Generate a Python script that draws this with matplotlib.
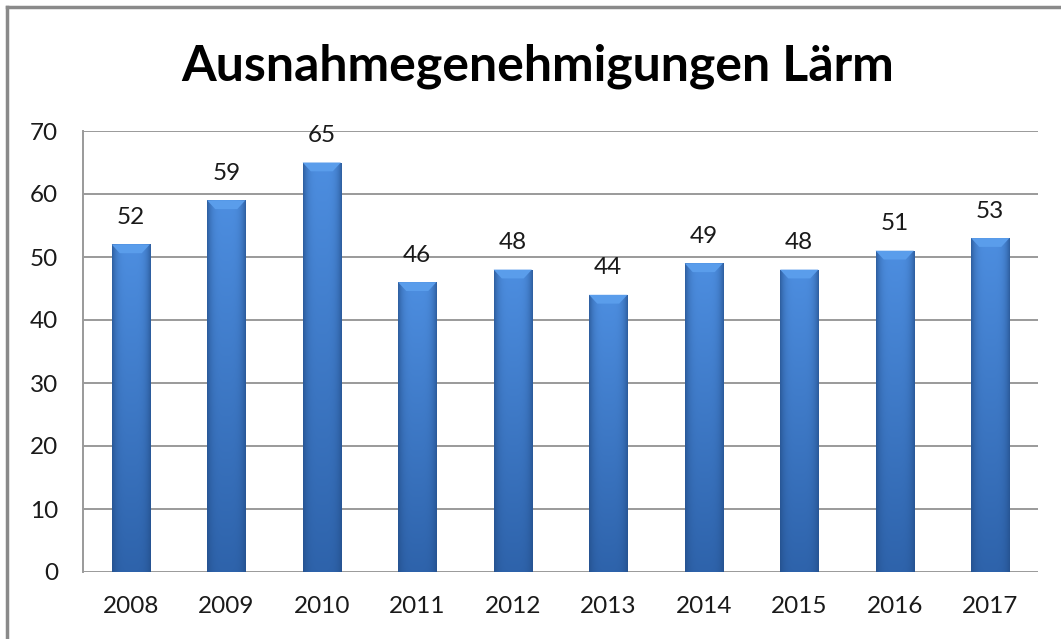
import matplotlib
matplotlib.use("Agg")
import matplotlib.pyplot as plt
import numpy as np
from matplotlib.lines import Line2D
from matplotlib.patches import Polygon

years = ["2008", "2009", "2010", "2011", "2012", "2013", "2014", "2015", "2016", "2017"]
counts = [52, 59, 65, 46, 48, 44, 49, 48, 51, 53]
title = "Ausnahmegenehmigungen Lärm"

plt.rcParams["font.family"] = ["Lato", "DejaVu Sans"]

W, H = 1061, 639
fig = plt.figure(figsize=(W / 100, H / 100), dpi=100)
ax = fig.add_axes([83 / W, 1 - 572 / H, (1038 - 83) / W, (572 - 131) / H])

x = np.arange(len(years))
bar_w = 0.4
bars = ax.bar(x, counts, width=bar_w, color="#3a78c4", edgecolor="none", zorder=3)

# bar shading: darker at the sides, lighter towards the top
top_c = np.array([0x4d, 0x8e, 0xe0]) / 255
bot_c = np.array([0x2e, 0x63, 0xab]) / 255
edge_c = np.array([0x22, 0x4c, 0x86]) / 255
nx, ny = 60, 200
u = np.linspace(-1, 1, nx)
side = np.abs(u) ** 4  # 0 in the middle, 1 at the edges
vert = np.linspace(1, 0, ny)[:, None, None]  # 1 at top, 0 at bottom
base = bot_c + (top_c - bot_c) * vert
img = base * (1 - 0.7 * side[None, :, None]) + edge_c * (0.7 * side[None, :, None])
img = np.clip(img, 0, 1)

for bar in bars:
    x0, h = bar.get_x(), bar.get_height()
    im = ax.imshow(img, extent=(x0, x0 + bar_w, 0, h), aspect="auto",
                   zorder=4, interpolation="bilinear")
    im.set_clip_path(bar)
    d, e = 0.085, 1.4
    cap = Polygon([(x0, h), (x0 + bar_w, h), (x0 + bar_w - d, h - e), (x0 + d, h - e)],
                  closed=True, facecolor="#5a9deb", edgecolor="none", zorder=5)
    ax.add_patch(cap)
    ax.text(x0 + bar_w / 2, h + 2.6, str(h), ha="center", va="bottom",
            fontsize=17.5, color="#1a1a1a", zorder=6)

ax.set_xlim(-0.5, len(years) - 0.5)
ax.set_ylim(0, 70)
ax.set_yticks(np.arange(0, 71, 10))
ax.set_xticks(x)
ax.set_xticklabels(years)
ax.tick_params(axis="both", length=0, labelsize=17.5, labelcolor="#1a1a1a")
ax.tick_params(axis="y", pad=18)
ax.tick_params(axis="x", pad=17)
ax.grid(axis="y", color="#9a9a9a", linewidth=1.4, zorder=0)
ax.set_axisbelow(True)
for side_name in ["top", "right", "bottom"]:
    ax.spines[side_name].set_visible(False)
ax.spines["left"].set_color("#9a9a9a")
ax.spines["left"].set_linewidth(1.4)

fig.text(538 / W, 1 - 66 / H, title, ha="center", va="center",
         fontsize=36, fontweight="bold", color="#000000")

# outer chart frame (top and left edges visible)
fig.add_artist(Line2D([7 / W, 1], [1 - 7 / H, 1 - 7 / H], transform=fig.transFigure,
                      color="#8a8a8a", linewidth=2.5))
fig.add_artist(Line2D([7 / W, 7 / W], [0, 1 - 7 / H], transform=fig.transFigure,
                      color="#8a8a8a", linewidth=2.5))

fig.savefig("out.png", dpi=100)
